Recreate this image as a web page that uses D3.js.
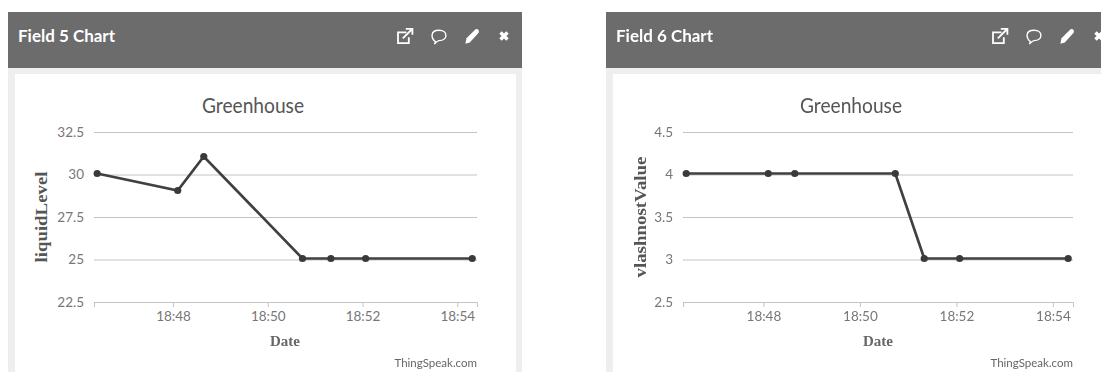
<!DOCTYPE html>
<html>
<head>
<meta charset="utf-8">
<script src="https://cdn.jsdelivr.net/npm/d3@7"></script>
<style>
    html, body { margin: 0; padding: 0; background: #fff; overflow: hidden; }
    svg { display: block; filter: blur(0.4px); }
</style>
</head>
<body>
<svg id="chart" width="1101" height="372"></svg>
<script>
const times = ["18:46:24", "18:48:06", "18:48:39", "18:50:44", "18:51:20", "18:52:04", "18:54:19"];
const level = [30, 29, 31, 25, 25, 25, 25];
const vlashnost = [4, 4, 4, 4, 3, 3, 3];
const levelTicks = [22.5, 25, 27.5, 30, 32.5];
const vlashnostTicks = [2.5, 3, 3.5, 4, 4.5];
const timeTicks = ["18:48:00", "18:50:00", "18:52:00", "18:54:00"];
const timeRange = ["18:46:20", "18:54:25"];

const parseTime = d3.timeParse("%H:%M:%S");
const svg = d3.select("#chart");

function drawIcons(g, x) {
    // x of the first icon, the others are spaced 33-35 px
    const y = 36;
    const ext = g.append("g").attr("transform", `translate(${x},${y}) scale(1.2)`)
        .attr("fill", "none").attr("stroke", "#fff").attr("stroke-width", 1.5);
    ext.append("path").attr("d", "M2,-3 H-5 V6 H4 V1");
    ext.append("path").attr("d", "M-1,2 L6,-5 M1.5,-6 H7 V-1");

    g.append("path")
        .attr("transform", `translate(${x + 35},${y}) scale(1.15)`)
        .attr("fill", "none").attr("stroke", "#fff").attr("stroke-width", 1.2)
        .attr("d", "M-3,5 C-7,2 -8,-5 0,-5 C8,-5 8,4 0,4 C-1,4 -2,5 -4,7 Z");

    g.append("path")
        .attr("transform", `translate(${x + 68},${y}) scale(1.1)`)
        .attr("fill", "#fff")
        .attr("d", "M-6,7 L-5,2 L3,-6 C5,-7 7,-5 6,-3 L-2,6 Z");

    g.append("path")
        .attr("transform", `translate(${x + 100},${y})`)
        .attr("fill", "none").attr("stroke", "#fff").attr("stroke-width", 3.4)
        .attr("d", "M-3.5,-3.5 L3.5,3.5 M3.5,-3.5 L-3.5,3.5");
}

function drawPanel(opt) {
    const g = svg.append("g");

    g.append("rect").attr("x", opt.left).attr("y", 12).attr("width", opt.panelW).attr("height", 360).attr("fill", "#eeeeee");
    g.append("rect").attr("x", opt.left).attr("y", 12).attr("width", opt.panelW).attr("height", 56).attr("fill", "#6c6c6c");
    g.append("rect").attr("x", opt.left + 7).attr("y", 74).attr("width", opt.panelW - 13).attr("height", 298).attr("fill", "#fff");

    g.append("text")
        .attr("x", opt.left + 10).attr("y", 42)
        .attr("font-family", "Lato").attr("font-weight", "bold").attr("font-size", "17px")
        .attr("textLength", 97).attr("lengthAdjust", "spacingAndGlyphs")
        .attr("fill", "#fff")
        .text(opt.field);

    drawIcons(g, opt.iconX);

    const x = d3.scaleTime().domain(timeRange.map(parseTime)).range([opt.x0, opt.x1]);
    const y = d3.scaleLinear().domain(d3.extent(opt.ticks)).range([302, 132]);

    const yAxis = g.append("g")
        .attr("transform", `translate(${opt.x0},0)`)
        .call(d3.axisLeft(y).tickValues(opt.ticks).tickSize(-(opt.x1 - opt.x0)).tickPadding(10).tickFormat(d => d));
    yAxis.select(".domain").remove();
    yAxis.selectAll("line").attr("stroke", "#c4c4c4");
    yAxis.selectAll("text")
        .attr("font-family", "Lato").attr("font-size", "13.5px").attr("fill", "#777");

    const xAxis = g.append("g")
        .attr("transform", "translate(0,302)")
        .call(d3.axisBottom(x).tickValues(timeTicks.map(parseTime)).tickSize(5).tickPadding(4).tickFormat(d3.timeFormat("%H:%M")));
    xAxis.select(".domain").attr("stroke", "#c4c4c4");
    xAxis.selectAll("line").attr("stroke", "#c4c4c4");
    xAxis.selectAll("text")
        .attr("font-family", "Lato").attr("font-size", "13.5px").attr("fill", "#777");

    const line = d3.line()
        .x((d, i) => x(parseTime(times[i])))
        .y(d => y(d) - 1);

    g.append("path")
        .datum(opt.values)
        .attr("fill", "none")
        .attr("stroke", "#404040")
        .attr("stroke-width", 2.7)
        .attr("d", line);

    g.selectAll(".point")
        .data(opt.values)
        .enter()
        .append("circle")
        .attr("class", "point")
        .attr("r", 3.6)
        .attr("fill", "#3a3a3a")
        .attr("cx", (d, i) => x(parseTime(times[i])))
        .attr("cy", d => y(d) - 1);

    g.append("text")
        .attr("x", opt.titleX).attr("y", 113)
        .attr("text-anchor", "middle")
        .attr("font-family", "Lato").attr("font-size", "21px").attr("fill", "#555")
        .attr("textLength", 102).attr("lengthAdjust", "spacingAndGlyphs")
        .text("Greenhouse");

    g.append("text")
        .attr("transform", `translate(${opt.yLabelX},${opt.yLabelY}) rotate(-90)`)
        .attr("text-anchor", "middle")
        .attr("font-family", "Liberation Serif").attr("font-weight", "bold").attr("font-size", "16px").attr("fill", "#555")
        .attr("textLength", opt.yLabelLen).attr("lengthAdjust", "spacingAndGlyphs")
        .text(opt.yLabel);

    g.append("text")
        .attr("x", opt.dateX).attr("y", 346)
        .attr("text-anchor", "middle")
        .attr("font-family", "Liberation Serif").attr("font-weight", "bold").attr("font-size", "15px").attr("fill", "#666")
        .text("Date");

    g.append("text")
        .attr("x", opt.x1).attr("y", 367)
        .attr("text-anchor", "end")
        .attr("font-family", "Lato").attr("font-size", "11.5px").attr("fill", "#666")
        .text("ThingSpeak.com");
}

drawPanel({
    left: 8, panelW: 514, iconX: 404, field: "Field 5 Chart",
    x0: 94, x1: 477, titleX: 253, dateX: 285,
    yLabel: "liquidLevel", yLabelX: 47, yLabelY: 217, yLabelLen: 91,
    values: level, ticks: levelTicks
});

drawPanel({
    left: 606, panelW: 514, iconX: 999, field: "Field 6 Chart",
    x0: 683, x1: 1073, titleX: 851, dateX: 878,
    yLabel: "vlashnostValue", yLabelX: 646, yLabelY: 217, yLabelLen: 121,
    values: vlashnost, ticks: vlashnostTicks
});
</script>
</body>
</html>
